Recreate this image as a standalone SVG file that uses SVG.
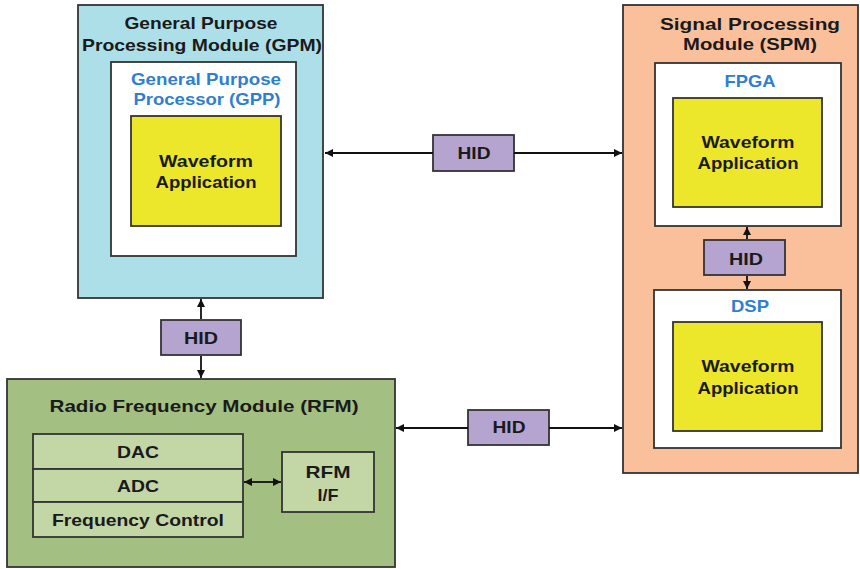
<svg xmlns="http://www.w3.org/2000/svg" width="860" height="569" viewBox="0 0 860 569">
<defs>
<style>
text{font-family:"Liberation Sans",Arial,sans-serif;font-weight:bold;font-size:16.5px;text-anchor:middle;fill:#1a1a1a}
.blue{fill:#2F7FCF}
.box{stroke:#333;stroke-width:1.8}
.gpm{fill:#ADDFE8}
.spm{fill:#FAC09B}
.rfm{fill:#A3BF82}
.cell{fill:#C3D6A6}
.white{fill:#fff}
.yel{fill:#EDE72C}
.hid{fill:#B4A4CF}
.conn{stroke:#111;stroke-width:1.8;fill:none;marker-end:url(#ah)}
</style>
<marker id="ah" viewBox="0 0 10 10" refX="10" refY="5" markerWidth="8" markerHeight="8" markerUnits="userSpaceOnUse" orient="auto">
<path d="M0,0 L10,5 L0,10 z" fill="#111"/>
</marker>
</defs>
<rect width="860" height="569" fill="#fff"/>

<g id="gpm">
<rect class="box gpm" x="78" y="5" width="245" height="293"/>
<text x="201" y="29" textLength="153" lengthAdjust="spacingAndGlyphs">General Purpose</text>
<text x="202" y="51" textLength="240" lengthAdjust="spacingAndGlyphs">Processing Module (GPM)</text>
<g id="gpp">
<rect class="box white" x="111" y="62" width="185" height="194"/>
<text class="blue" x="206" y="85" textLength="150" lengthAdjust="spacingAndGlyphs">General Purpose</text>
<text class="blue" x="207" y="105" textLength="147" lengthAdjust="spacingAndGlyphs">Processor (GPP)</text>
<g id="gpp-wave">
<rect class="box yel" x="131" y="116" width="150" height="110"/>
<text x="206" y="167" textLength="94" lengthAdjust="spacingAndGlyphs">Waveform</text>
<text x="206" y="188" textLength="101" lengthAdjust="spacingAndGlyphs">Application</text>
</g>
</g>
</g>

<g id="spm">
<rect class="box spm" x="623" y="5" width="235" height="468"/>
<text x="750" y="30" textLength="180" lengthAdjust="spacingAndGlyphs">Signal Processing</text>
<text x="750" y="50" textLength="134" lengthAdjust="spacingAndGlyphs">Module (SPM)</text>
<g id="fpga">
<rect class="box white" x="655" y="63" width="186" height="163"/>
<text class="blue" x="750" y="87" textLength="51" lengthAdjust="spacingAndGlyphs">FPGA</text>
<g id="fpga-wave">
<rect class="box yel" x="673" y="98" width="149" height="109"/>
<text x="748" y="148" textLength="93" lengthAdjust="spacingAndGlyphs">Waveform</text>
<text x="748" y="169" textLength="101" lengthAdjust="spacingAndGlyphs">Application</text>
</g>
</g>
<g id="hid-spm">
<rect class="box hid" x="704" y="240" width="81" height="35"/>
<text x="746" y="265" textLength="34" lengthAdjust="spacingAndGlyphs">HID</text>
</g>
<g id="dsp">
<rect class="box white" x="654" y="290" width="187" height="158"/>
<text class="blue" x="750" y="312" textLength="38" lengthAdjust="spacingAndGlyphs">DSP</text>
<g id="dsp-wave">
<rect class="box yel" x="673" y="322" width="149" height="109"/>
<text x="748" y="372" textLength="93" lengthAdjust="spacingAndGlyphs">Waveform</text>
<text x="748" y="394" textLength="101" lengthAdjust="spacingAndGlyphs">Application</text>
</g>
</g>
</g>

<g id="rfm">
<rect class="box rfm" x="7" y="379" width="388" height="188"/>
<text x="204" y="412" textLength="309" lengthAdjust="spacingAndGlyphs">Radio Frequency Module (RFM)</text>
<g id="dac">
<rect class="box cell" x="33" y="434" width="210" height="35"/>
<text x="138" y="458" textLength="42" lengthAdjust="spacingAndGlyphs">DAC</text>
</g>
<g id="adc">
<rect class="box cell" x="33" y="469" width="210" height="33"/>
<text x="138" y="492" textLength="42" lengthAdjust="spacingAndGlyphs">ADC</text>
</g>
<g id="freq">
<rect class="box cell" x="33" y="502" width="210" height="35"/>
<text x="138" y="526" textLength="172" lengthAdjust="spacingAndGlyphs">Frequency  Control</text>
</g>
<g id="rfm-if">
<rect class="box cell" x="282" y="452" width="92" height="60"/>
<text x="328" y="478" textLength="45" lengthAdjust="spacingAndGlyphs">RFM</text>
<text x="328" y="501" textLength="21" lengthAdjust="spacingAndGlyphs">I/F</text>
</g>
</g>

<g id="hid-top">
<rect class="box hid" x="433" y="135" width="81" height="36"/>
<text x="474" y="159" textLength="33" lengthAdjust="spacingAndGlyphs">HID</text>
</g>
<g id="hid-bottom">
<rect class="box hid" x="468" y="410" width="81" height="35"/>
<text x="509" y="433" textLength="33" lengthAdjust="spacingAndGlyphs">HID</text>
</g>
<g id="hid-left">
<rect class="box hid" x="161" y="320" width="80" height="35"/>
<text x="201" y="344" textLength="34" lengthAdjust="spacingAndGlyphs">HID</text>
</g>

<g id="connectors">
<line class="conn" x1="433" y1="153" x2="325" y2="153"/>
<line class="conn" x1="514" y1="153" x2="622" y2="153"/>
<line class="conn" x1="468" y1="428" x2="396" y2="428"/>
<line class="conn" x1="549" y1="428" x2="622" y2="428"/>
<line class="conn" x1="201" y1="319" x2="201" y2="299"/>
<line class="conn" x1="201" y1="356" x2="201" y2="378"/>
<line class="conn" x1="747" y1="239" x2="747" y2="227"/>
<line class="conn" x1="747" y1="276" x2="747" y2="289"/>
<line class="conn" x1="262" y1="482" x2="244" y2="482"/>
<line class="conn" x1="262" y1="482" x2="281" y2="482"/>
</g>
</svg>
